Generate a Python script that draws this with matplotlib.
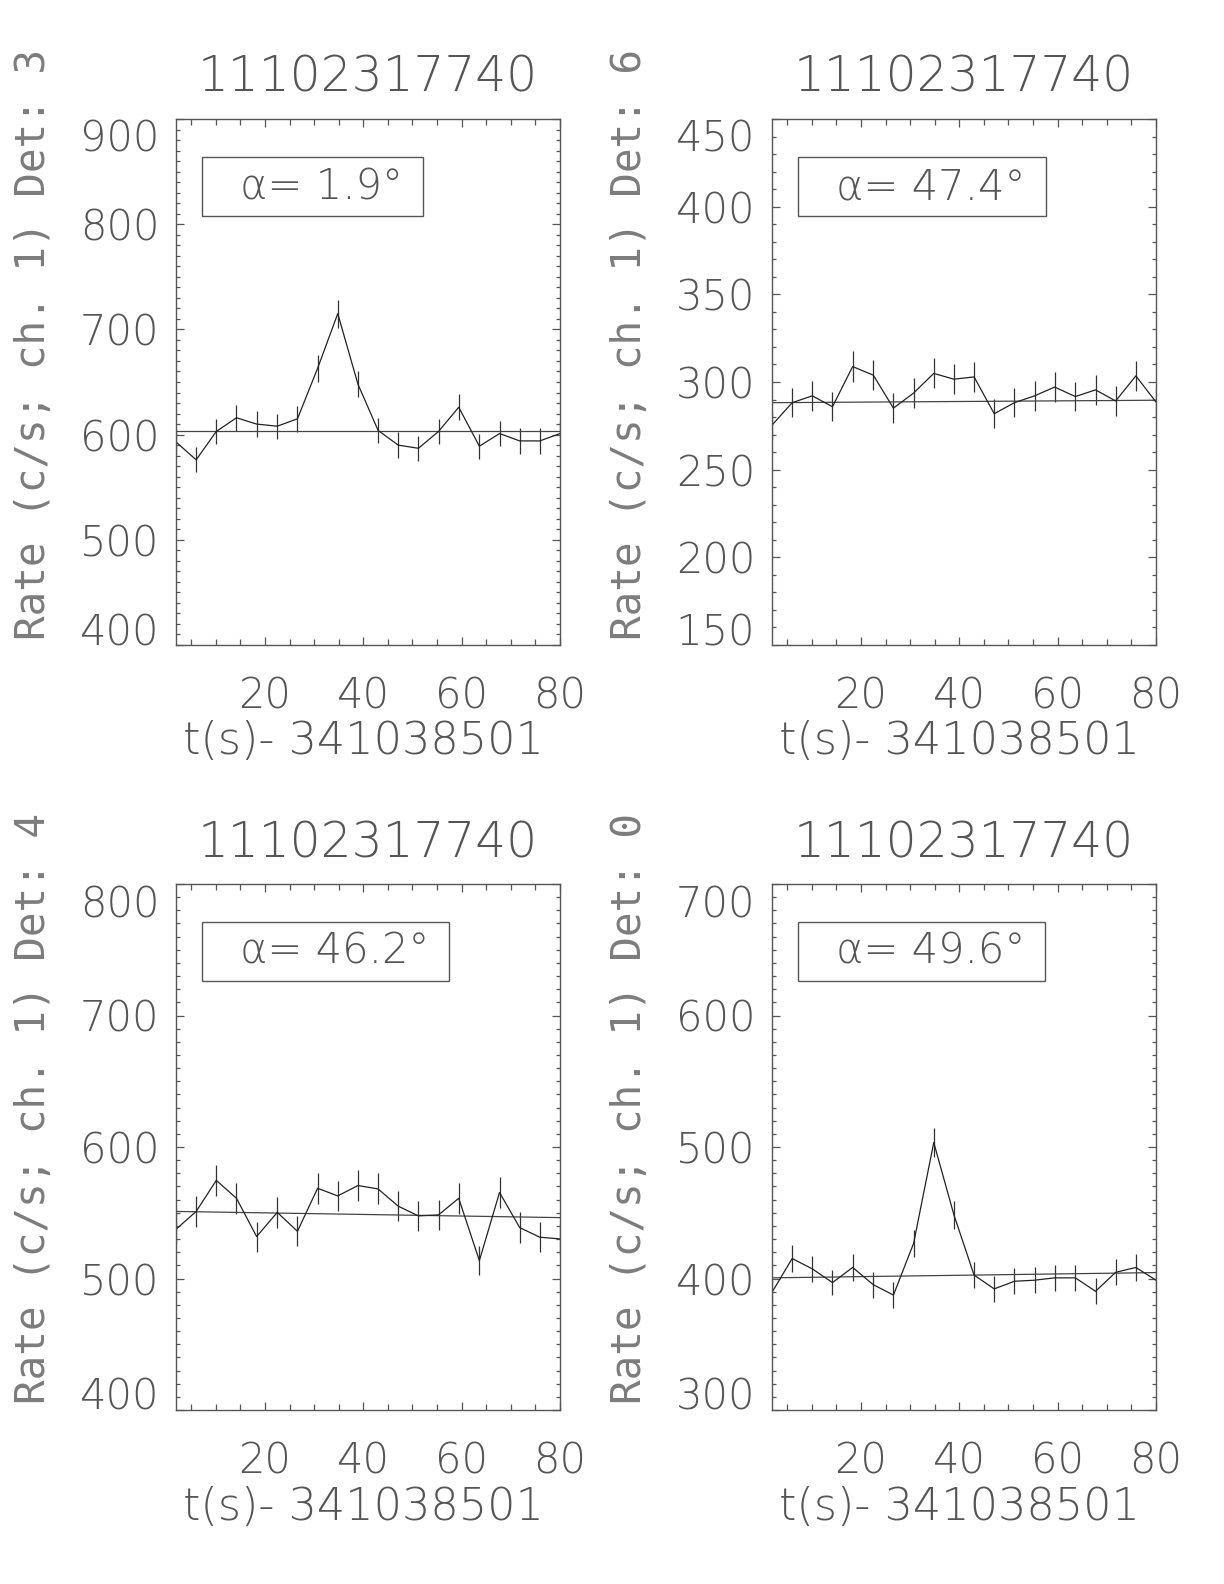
import matplotlib
matplotlib.use("Agg")
import matplotlib.pyplot as plt
import matplotlib.font_manager as fm
from matplotlib.patches import Rectangle
from matplotlib.ticker import MultipleLocator

# ---------------- data ----------------
time_s = [1.9, 6.0, 10.1, 14.2, 18.3, 22.5, 26.6, 30.7, 34.8, 38.9,
          43.0, 47.1, 51.2, 55.3, 59.4, 63.6, 67.7, 71.8, 75.9, 80.0]

det3_rate = [593, 576, 603, 616, 610, 608, 615, 663, 715, 648,
             604, 590, 587, 603, 626, 589, 601, 594, 594, 601]
det3_err = [12, 12, 12, 12.5, 12, 12, 12.5, 12.7, 13.2, 12.6,
            12, 12, 12, 12, 12.4, 12, 12, 12, 12, 12]
det3_bkg = [603, 603]

det6_rate = [275.4, 288.2, 292.1, 285.9, 308.8, 303.9, 285.1, 293.7, 304.9, 301.6,
             302.9, 281.9, 288.2, 292.1, 297.1, 291.7, 295.5, 289.2, 303.5, 288.6]
det6_err = [8.2, 8.4, 8.4, 8.4, 8.7, 8.6, 8.4, 8.5, 8.6, 8.6,
            8.6, 8.3, 8.4, 8.4, 8.5, 8.4, 8.5, 8.4, 8.6, 8.4]
det6_bkg = [288.2, 289.6]

det4_rate = [537.4, 551.0, 574.6, 561.0, 531.9, 550.3, 535.9, 568.6, 562.8, 570.7,
             568.1, 555.0, 547.6, 548.4, 561.0, 513.6, 565.4, 538.7, 531.4, 530.1]
det4_err = [11.5, 11.6, 11.8, 11.7, 11.4, 11.6, 11.4, 11.8, 11.7, 11.8,
            11.8, 11.6, 11.6, 11.6, 11.7, 11.2, 11.7, 11.5, 11.4, 11.4]
det4_bkg = [551.0, 546.3]

det0_rate = [389.5, 415.2, 407.3, 396.9, 408.4, 395.3, 387.4, 426.7, 503.4, 448.4,
             402.6, 392.1, 397.9, 398.7, 400.5, 400.5, 390.3, 404.7, 408.4, 398.7]
det0_err = [9.7, 10.1, 10.0, 9.8, 10.0, 9.8, 9.7, 10.2, 11.1, 10.5,
            9.9, 9.8, 9.8, 9.9, 9.9, 9.9, 9.8, 9.9, 10.0, 9.9]
det0_bkg = [400.5, 404.5]

titles = ["11102317740", "11102317740", "11102317740", "11102317740"]
detectors = ["3", "6", "4", "0"]
alphas = ["1.9", "47.4", "46.2", "49.6"]
ylims = [(400, 900), (150, 450), (400, 800), (300, 700)]
ymajor = [100, 50, 100, 100]
xticks = [20, 40, 60, 80]
t0_label = "t(s)- 341038501"

rates = [det3_rate, det6_rate, det4_rate, det0_rate]
errs = [det3_err, det6_err, det4_err, det0_err]
bkgs = [det3_bkg, det6_bkg, det4_bkg, det0_bkg]

# ---------------- fonts ----------------
def pick_light():
    prefs = ["DejaVu Sans", "Roboto", "Lato", "Open Sans", "Inter"]
    fl = fm.fontManager.ttflist
    for name in prefs:
        best = None
        for f in fl:
            try:
                w = int(f.weight)
            except Exception:
                w = 400
            if f.name == name and w <= 300 and f.style == "normal":
                if best is None or w > best[0]:
                    best = (w, f.fname)
        if best:
            return best[1]
    return None

LIGHT = pick_light()
def fp_light(size):
    if LIGHT:
        return fm.FontProperties(fname=LIGHT, size=size)
    return fm.FontProperties(family="DejaVu Sans", size=size)

def fp_mono(size):
    return fm.FontProperties(family=["DejaVu Sans Mono", "DejaVu Sans"], size=size)

W, H = 1224, 1584
fig = plt.figure(figsize=(W / 100, H / 100), dpi=100)

FG = "#555555"
LABEL_FG = "#7c7c7c"
LINE = "#222222"

panels = [(176, 560, 119, 645), (772, 1156, 119, 645),
          (176, 560, 884, 1410), (772, 1156, 884, 1410)]

renderer = fig.canvas.get_renderer()

for i, (x0, x1, y0, y1) in enumerate(panels):
    ax = fig.add_axes([x0 / W, 1 - y1 / H, (x1 - x0) / W, (y1 - y0) / H])
    ax.errorbar(time_s, rates[i], yerr=errs[i], fmt="-", color=LINE, lw=0.9,
                elinewidth=0.9, ecolor="#333333", capsize=0)
    ax.plot([time_s[0], time_s[-1]], bkgs[i], color="#444444", lw=0.9)
    ax.set_xlim(time_s[0], time_s[-1])
    lo, hi = ylims[i]
    ax.set_ylim(lo, hi)
    ax.set_xticks(xticks)
    ax.set_yticks(list(range(lo, hi + 1, ymajor[i])))
    ax.xaxis.set_minor_locator(MultipleLocator(5))
    ax.yaxis.set_minor_locator(MultipleLocator(10))
    ax.tick_params(which="both", direction="in", top=True, right=True, colors=FG, width=0.9)
    ax.tick_params(axis="x", which="major", length=5.5, pad=22)
    ax.tick_params(axis="x", which="minor", length=4)
    ax.tick_params(axis="y", which="major", length=6, pad=12)
    ax.tick_params(axis="y", which="minor", length=3)
    for s in ax.spines.values():
        s.set_color(FG)
        s.set_linewidth(1.0)
    for lab in ax.get_xticklabels() + ax.get_yticklabels():
        lab.set_fontproperties(fp_light(30))
        lab.set_color(FG)
    ylabs = ax.get_yticklabels()
    ylabs[0].set_verticalalignment("baseline")
    ylabs[-1].set_verticalalignment("top")

    cx = (x0 + x1) / 2
    # title
    fig.text(cx / W, 1 - (y0 - 41) / H, titles[i], fontproperties=fp_light(35),
             color=FG, ha="center", va="center")
    # x label
    fig.text((cx - 5) / W, 1 - (y1 + 97) / H, t0_label, fontproperties=fp_light(32),
             color=FG, ha="center", va="center")
    # y label
    fig.text((x0 - 142) / W, 1 - ((y0 + y1) / 2 - 38) / H,
             "Rate (c/s; ch. 1) Det: " + detectors[i], fontproperties=fp_mono(29.5),
             color=LABEL_FG, ha="center", va="center", rotation=90)

    # annotation box
    bx0 = x0 + 26
    btop = y0 + 38
    bbot = btop + 59
    t = fig.text((bx0 + 38) / W, 1 - ((btop + bbot) / 2) / H,
                 "α= " + alphas[i] + "°", fontproperties=fp_light(30),
                 color=FG, ha="left", va="center")
    bb = t.get_window_extent(renderer)
    bx1 = bb.x1 + 20
    rect = Rectangle((bx0 / W, 1 - bbot / H), (bx1 - bx0) / W, 59 / H,
                     transform=fig.transFigure, fill=False, edgecolor=FG, lw=1.0)
    fig.patches.append(rect)

fig.savefig("out.png", dpi=100)
